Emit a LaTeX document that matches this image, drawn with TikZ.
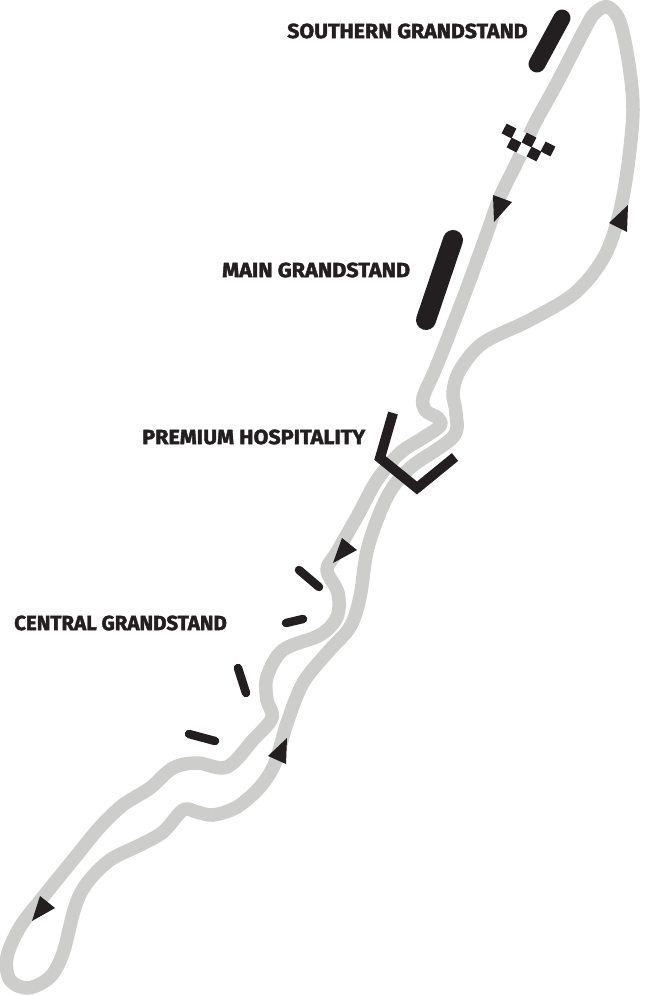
\documentclass[tikz,border=0pt]{standalone}
\usepackage{fontspec}
\setmainfont{Fira Sans}
\newfontfamily\labelfont{Fira Sans Bold}[FakeBold=2]
\definecolor{trackgrey}{HTML}{CDCDCB}
\definecolor{inkdark}{HTML}{231F20}
\tikzset{
  trackline/.style={draw=trackgrey,line width=13.5pt,line join=round},
  standbar/.style={draw=inkdark,line width=#1,line cap=round},
  arrowtri/.style={fill=inkdark,draw=none},
  chk/.style={fill=inkdark,draw=none,minimum size=11pt,inner sep=0pt,rotate=-27,shape=rectangle},
  chkw/.style={fill=white,draw=none,minimum size=11pt,inner sep=0pt,rotate=-27,shape=rectangle},
  standlabel/.style={anchor=west,inner sep=0pt,text=inkdark,font=\labelfont\fontsize{20.5}{20.5}\selectfont,transform shape}
}
\begin{document}
\begin{tikzpicture}[x=1pt,y=-1pt]
\useasboundingbox (0,0) rectangle (649,995);
\draw[trackline] plot[smooth cycle,tension=0.55] coordinates {
(608,7)(596,12)(587,25)(557,83)(535,123)(518,160)(500,197)(487,233)(467,288)
(447,340)(435,370)(423,398)(426,411)(438,418)(440,426)(423,438)(400,453)(377,480)(358,515)(337,552)
(327,570)(338,593)(337,617)(320,635)(283,650)(267,677)(267,700)(272,718)(253,740)(227,767)(197,763)(173,768)
(150,788)(123,805)(100,827)(73,860)(43,897)(20,927)(7,957)(10,980)(28,988)(50,977)(63,953)(75,907)(87,883)
(110,860)(140,845)(163,832)(183,810)(197,812)(213,815)(237,807)(260,787)(275,763)
(287,723)(303,683)(327,653)(350,627)(360,597)(368,547)(387,497)(410,468)(453,437)(456,413)(453,393)(460,370)(483,343)
(530,320)(575,293)(604,257)(619,215)(628,165)(633,110)(629,65)(620,22)};
\node[chkw] (w1) at (524,150) {};
\node[chkw] (w2) at (519,136) {};
\node[chk] (c1) at (509,131) {};
\node[chk] (c2) at (514,145) {};
\node[chk] (c3) at (529,140) {};
\node[chk] (c4) at (534,154) {};
\node[chk] (c5) at (548,149) {};
\fill[arrowtri] (493,195)--(512,202)--(494,222)--cycle;
\fill[arrowtri] (628,205)--(609,223)--(627,232)--cycle;
\fill[arrowtri] (342,538)--(357,550)--(333,563)--cycle;
\fill[arrowtri] (287,738)--(268,756)--(286,764)--cycle;
\fill[arrowtri] (40,896)--(55,908)--(32,921)--cycle;
\draw[standbar=17pt] (562,18)--(537,64);
\draw[standbar=20pt] (453,240)--(426,320);
\draw[draw=inkdark,line width=10pt,line join=miter] (393,413)--(380,458)--(417,488)--(455,457);
\draw[standbar=8.5pt] (299,570)--(319,587);
\draw[standbar=8.5pt] (286,623)--(303,619);
\draw[standbar=8.5pt] (238,668)--(246,693);
\draw[standbar=8.5pt] (189,734)--(215,741);
\begin{scope}[xscale=1.04,shift={(276,0)}]
\node[standlabel] (l1) at (0,31) {SOUTHERN GRANDSTAND};
\end{scope}
\begin{scope}[xscale=1.056,shift={(210.2,0)}]
\node[standlabel] (l2) at (0,270) {MAIN GRANDSTAND};
\end{scope}
\begin{scope}[xscale=1.052,shift={(135,0)}]
\node[standlabel] (l3) at (0,437) {PREMIUM HOSPITALITY};
\end{scope}
\node[standlabel] (l4) at (14,623) {CENTRAL GRANDSTAND};
\end{tikzpicture}
\end{document}
